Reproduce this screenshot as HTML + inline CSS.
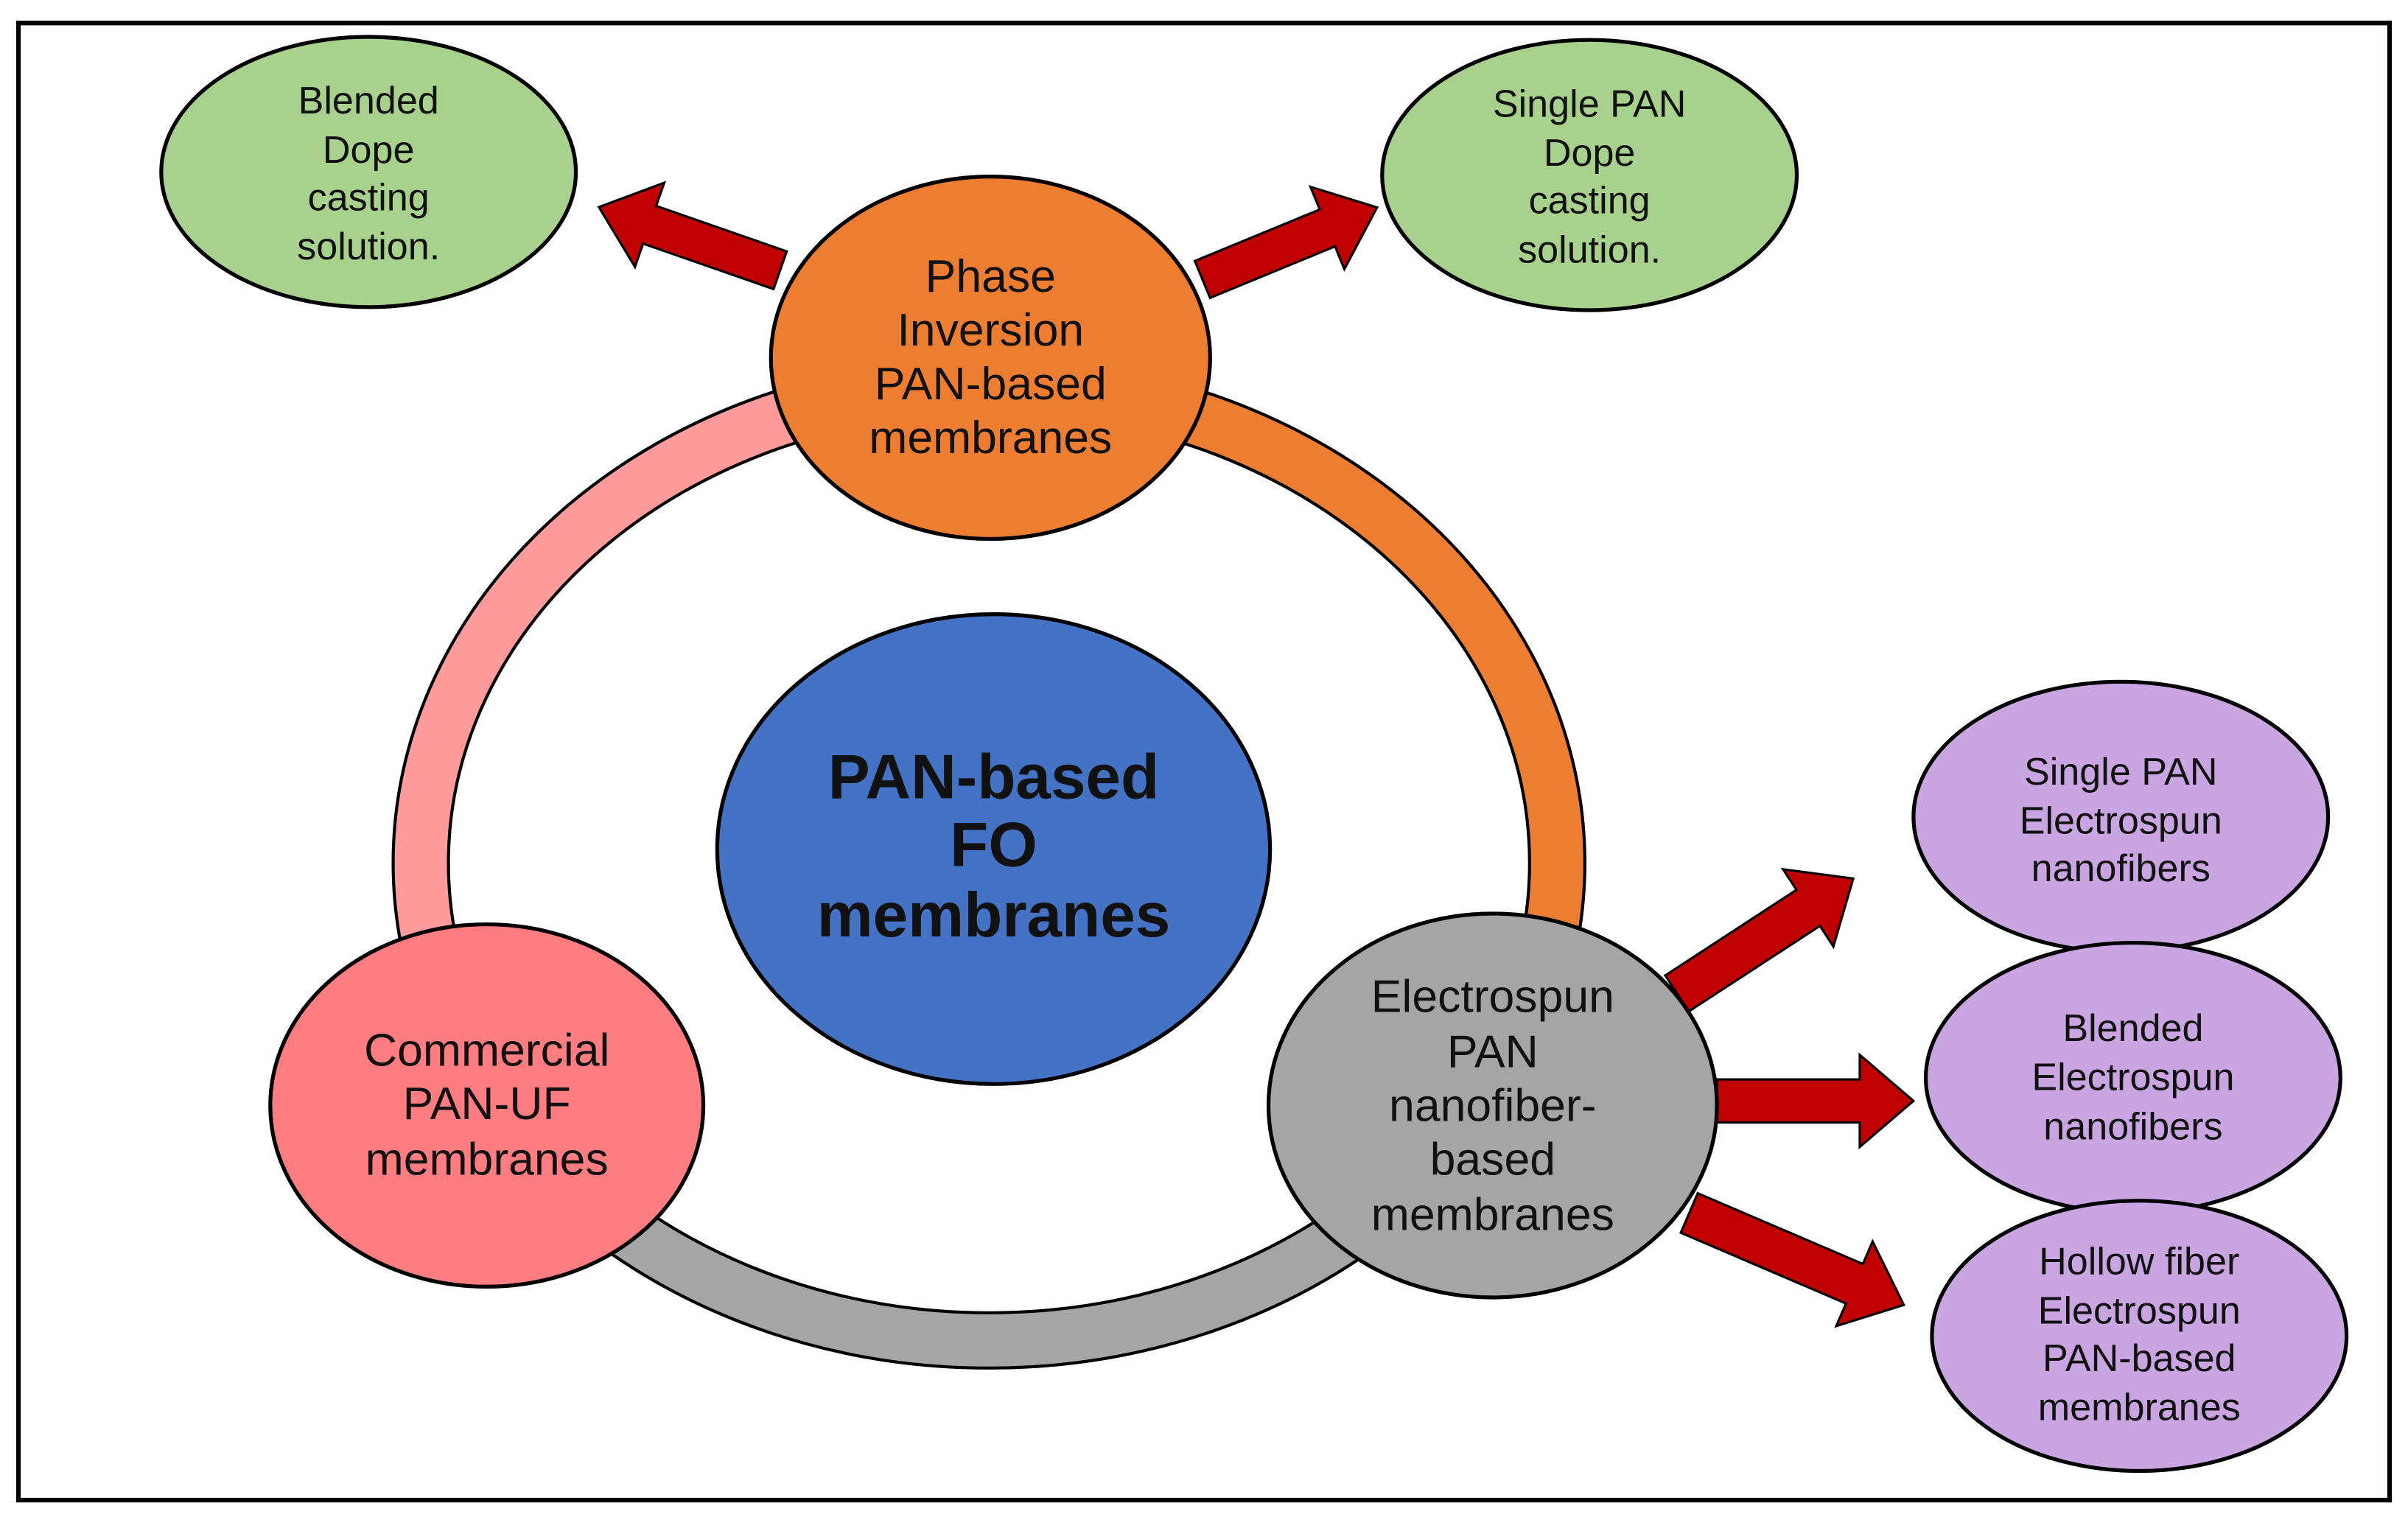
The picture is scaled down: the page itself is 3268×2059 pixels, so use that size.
<!DOCTYPE html>
<html><head><meta charset="utf-8"><style>
html,body{margin:0;padding:0;background:#fff}
svg{display:block}
text{font-family:"Liberation Sans",sans-serif;text-anchor:middle;fill:#111}
</style></head><body>
<svg width="3268" height="2059" viewBox="0 0 1568 988" preserveAspectRatio="none" xmlns="http://www.w3.org/2000/svg">
<defs>
<clipPath id="cp"><rect x="0" y="0" width="645" height="700"/></clipPath>
<clipPath id="co"><rect x="645" y="0" width="900" height="700"/></clipPath>
<clipPath id="cg"><rect x="0" y="700" width="1568" height="300"/></clipPath>
</defs>
<rect x="12" y="15" width="1544" height="962" fill="#fff" stroke="#000" stroke-width="3"/>
<ellipse cx="644" cy="562" rx="370" ry="311" fill="none" stroke="#000" stroke-width="38"/>
<ellipse cx="644" cy="562" rx="370" ry="311" fill="none" stroke="#FF9B9B" stroke-width="34" clip-path="url(#cp)"/>
<ellipse cx="644" cy="562" rx="370" ry="311" fill="none" stroke="#ED7D31" stroke-width="34" clip-path="url(#co)"/>
<ellipse cx="644" cy="562" rx="370" ry="311" fill="none" stroke="#A5A5A5" stroke-width="34" clip-path="url(#cg)"/>
<g fill="#C00000" stroke="#000" stroke-width="1.5">
<polygon transform="translate(508,176) rotate(199.2)" points="0,-13 90,-13 90,-29 125,0 90,29 90,13 0,13"/>
<polygon transform="translate(783,182) rotate(-22.4)" points="0,-13 88,-13 88,-29 123,0 88,29 88,13 0,13"/>
<polygon transform="translate(1092,647) rotate(-33.1)" points="0,-14 102,-14 102,-30 137,0 102,30 102,14 0,14"/>
<polygon transform="translate(1118,717) rotate(0)" points="0,-14 93,-14 93,-30 128,0 93,30 93,14 0,14"/>
<polygon transform="translate(1100,790) rotate(23.2)" points="0,-14 117,-14 117,-30 152,0 117,30 117,14 0,14"/>
</g>
<g stroke="#000" stroke-width="2.5">
<ellipse cx="240" cy="112" rx="135" ry="88" fill="#A9D18E"/>
<ellipse cx="1035" cy="114" rx="135" ry="88" fill="#A9D18E"/>
<ellipse cx="645" cy="233" rx="143" ry="118" fill="#ED7D31"/>
<ellipse cx="647" cy="553" rx="180" ry="153" fill="#4472C4"/>
<ellipse cx="317" cy="720" rx="141" ry="118" fill="#FF7C80"/>
<ellipse cx="972" cy="720" rx="146" ry="125" fill="#A5A5A5"/>
<ellipse cx="1381" cy="532" rx="135" ry="88" fill="#C9A6E2"/>
<ellipse cx="1389" cy="702" rx="135" ry="88" fill="#C9A6E2"/>
<ellipse cx="1393" cy="870" rx="135" ry="88" fill="#C9A6E2"/>
</g>
<g font-size="25">
<text x="240" y="74">Blended</text><text x="240" y="106">Dope</text><text x="240" y="137">casting</text><text x="240" y="169">solution.</text>
<text x="1035" y="76">Single PAN</text><text x="1035" y="108">Dope</text><text x="1035" y="139">casting</text><text x="1035" y="171">solution.</text>
<text x="1381" y="511">Single PAN</text><text x="1381" y="543">Electrospun</text><text x="1381" y="574">nanofibers</text>
<text x="1389" y="678">Blended</text><text x="1389" y="710">Electrospun</text><text x="1389" y="742">nanofibers</text>
<text x="1393" y="830">Hollow fiber</text><text x="1393" y="862">Electrospun</text><text x="1393" y="893">PAN-based</text><text x="1393" y="925">membranes</text>
</g>
<g font-size="30">
<text x="645" y="190">Phase</text><text x="645" y="225">Inversion</text><text x="645" y="260">PAN-based</text><text x="645" y="295">membranes</text>
<text x="317" y="694">Commercial</text><text x="317" y="729">PAN-UF</text><text x="317" y="765">membranes</text>
<text x="972" y="659">Electrospun</text><text x="972" y="695">PAN</text><text x="972" y="730">nanofiber-</text><text x="972" y="765">based</text><text x="972" y="801">membranes</text>
</g>
<g font-size="41" font-weight="bold">
<text x="647" y="520">PAN-based</text><text x="647" y="564">FO</text><text x="647" y="610">membranes</text>
</g>
</svg>
</body></html>
